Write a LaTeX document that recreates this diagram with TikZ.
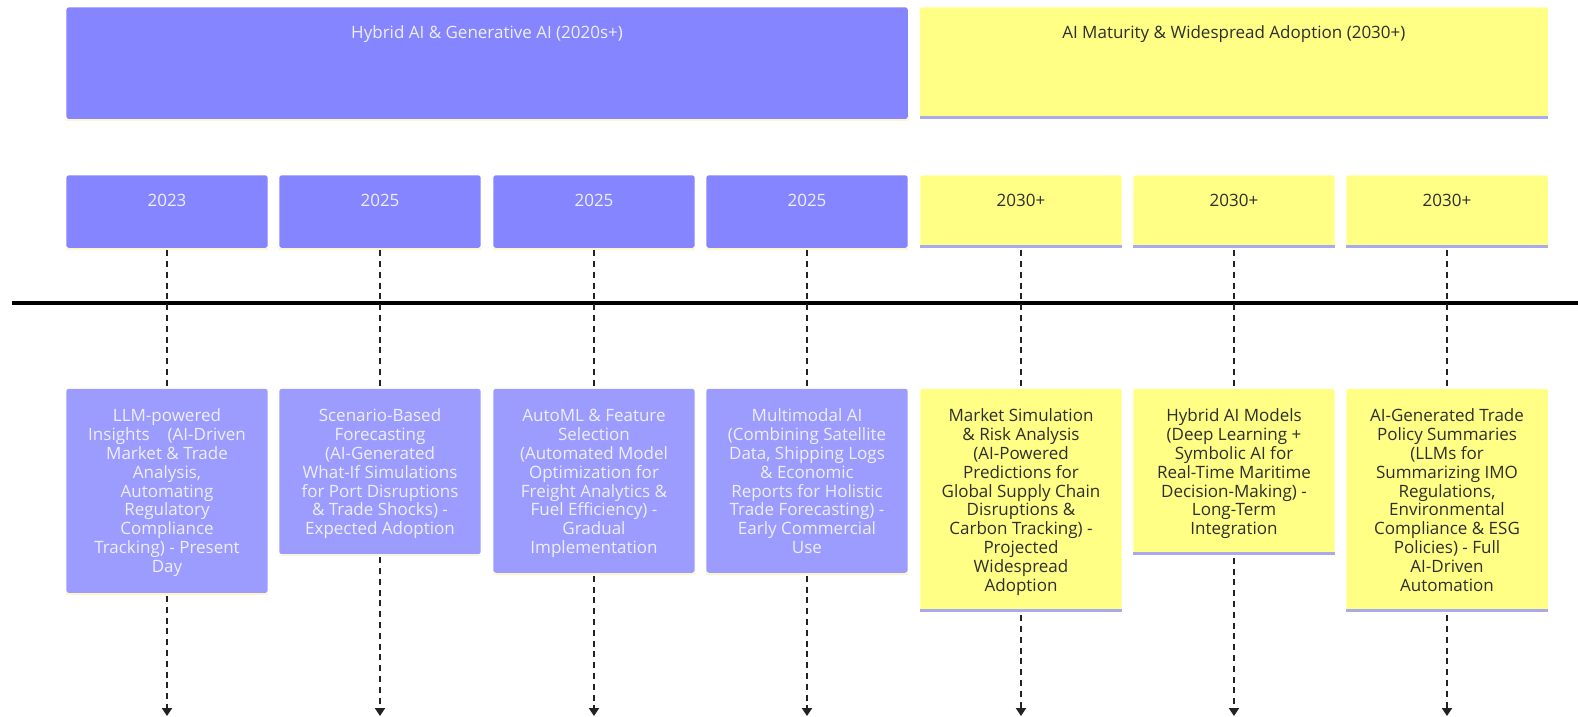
\documentclass[tikz,border=0pt]{standalone}
\usepackage{fontspec}
\setmainfont{Open Sans}
\usetikzlibrary{arrows.meta}
\definecolor{pur}{HTML}{8585FF}
\definecolor{purlt}{HTML}{9C9CFF}
\definecolor{yel}{HTML}{FFFF85}
\definecolor{lav}{HTML}{A9A9EE}
\definecolor{cream}{HTML}{FFF6CC}
\definecolor{ptext}{HTML}{EEEEFF}
\definecolor{ytext}{HTML}{2E2E2E}
\definecolor{dashc}{HTML}{222222}
\tikzset{
  boxbase/.style={shape=rectangle, rounded corners=2pt, inner sep=0pt, minimum width=151.1pt, anchor=north, draw=none},
  pbox/.style={boxbase, fill=pur},
  pcbox/.style={boxbase, fill=purlt},
  ybox/.style={boxbase, fill=yel},
  txtbase/.style={font=\fontsize{12.75}{14.1}\selectfont, align=center, inner sep=0pt},
  ptxt/.style={txtbase, text=ptext},
  ytxt/.style={txtbase, text=ytext},
  conn/.style={draw=dashc, line width=1.5pt, dash pattern=on 4.5pt off 3.6pt},
  connarrow/.style={conn, shorten <=2pt, -{Triangle[length=6pt,width=7.5pt]}},
  timeline/.style={draw=black, line width=3pt},
  lavbar/.style={fill=lav},
  creambar/.style={fill=cream},
}
\begin{document}
\begin{tikzpicture}[x=0.75pt,y=-0.75pt]
\useasboundingbox (0,0) rectangle (1578,717);
\fill[white] (0,0) rectangle (1578,717);

% banners
\node[pbox, minimum width=631.05pt, minimum height=83.85pt] (hyb) at (487.1,7) {};
\node[ybox, minimum width=471.1pt, minimum height=83.85pt] (mat) at (1233.85,7) {};
\fill[creambar] (hyb.south west) rectangle ([yshift=-1.5pt]hyb.south east);
\fill[lavbar] ([yshift=2.25pt]mat.south west) rectangle (mat.south east);
\node[ptxt, anchor=base] (hybt) at (487.1,39) {Hybrid AI \& Generative AI (2020s+)};
\node[ytxt, anchor=base] (matt) at (1233.85,39) {AI Maturity \& Widespread Adoption (2030+)};

% timeline
\coordinate (tl) at (12,303);
\coordinate (tr) at (1578,303);
\draw[timeline] (tl) -- (tr);

% year boxes
\node[pbox, minimum height=54.45pt] (y1) at (167,175) {};
\node[pbox, minimum height=54.45pt] (y2) at (380,175) {};
\node[pbox, minimum height=54.45pt] (y3) at (594,175) {};
\node[pbox, minimum height=54.45pt] (y4) at (807,175) {};
\node[ybox, minimum height=54.45pt] (y5) at (1021,175) {};
\node[ybox, minimum height=54.45pt] (y6) at (1234,175) {};
\node[ybox, minimum height=54.45pt] (y7) at (1447,175) {};
\foreach \n in {y1,y2,y3,y4}{\fill[creambar] (\n.south west) rectangle ([yshift=-1.2pt]\n.south east);}
\foreach \n in {y5,y6,y7}{\fill[lavbar] ([yshift=2.25pt]\n.south west) rectangle (\n.south east);}
\node[ptxt, anchor=base] (y1t) at (167,206.7) {2023};
\node[ptxt, anchor=base] (y2t) at (380,206.7) {2025};
\node[ptxt, anchor=base] (y3t) at (594,206.7) {2025};
\node[ptxt, anchor=base] (y4t) at (807,206.7) {2025};
\node[ytxt, anchor=base] (y5t) at (1021,206.7) {2030+};
\node[ytxt, anchor=base] (y6t) at (1234,206.7) {2030+};
\node[ytxt, anchor=base] (y7t) at (1447,206.7) {2030+};

% content boxes
\node[pcbox, minimum height=153.15pt] (c1) at (167,388.5) {};
\node[pcbox, minimum height=124.1pt] (c2) at (380,388.5) {};
\node[pcbox, minimum height=138pt] (c3) at (594,388.5) {};
\node[pcbox, minimum height=138pt] (c4) at (807,388.5) {};
\node[ybox, minimum height=167.55pt] (c5) at (1021,388.5) {};
\node[ybox, minimum height=124.5pt] (c6) at (1234,388.5) {};
\node[ybox, minimum height=167.55pt] (c7) at (1447,388.5) {};
\foreach \n in {c1,c2,c3,c4}{\fill[creambar] (\n.south west) rectangle ([yshift=-1.2pt]\n.south east);}
\foreach \n in {c5,c6,c7}{\fill[lavbar] ([yshift=2.25pt]\n.south west) rectangle (\n.south east);}

\node[ptxt, anchor=north] (t1) at (167,408.5) {\strut LLM-powered\\Insights\hspace{13.5pt}(AI-Driven\\Market \& Trade\\Analysis,\\Automating\\Regulatory\\Compliance\\Tracking) - Present\\Day};
\node[ptxt, anchor=north] (t2) at (380,408.5) {\strut Scenario-Based\\Forecasting\\(AI-Generated\\What-If Simulations\\for Port Disruptions\\\& Trade Shocks) -\\Expected Adoption};
\node[ptxt, anchor=north] (t3) at (594,408.5) {\strut AutoML \& Feature\\Selection\\(Automated Model\\Optimization for\\Freight Analytics \&\\Fuel Efficiency) -\\Gradual\\Implementation};
\node[ptxt, anchor=north] (t4) at (807,408.5) {\strut Multimodal AI\\(Combining Satellite\\Data, Shipping Logs\\\& Economic\\Reports for Holistic\\Trade Forecasting) -\\Early Commercial\\Use};
\node[ytxt, anchor=north] (t5) at (1021,408.5) {\strut Market Simulation\\\& Risk Analysis\\(AI-Powered\\Predictions for\\Global Supply Chain\\Disruptions \&\\Carbon Tracking) -\\Projected\\Widespread\\Adoption};
\node[ytxt, anchor=north] (t6) at (1234,408.5) {\strut Hybrid AI Models\\(Deep Learning +\\Symbolic AI for\\Real-Time Maritime\\Decision-Making) -\\Long-Term\\Integration};
\node[ytxt, anchor=north] (t7) at (1447,408.5) {\strut AI-Generated Trade\\Policy Summaries\\(LLMs for\\Summarizing IMO\\Regulations,\\Environmental\\Compliance \& ESG\\Policies) - Full\\AI-Driven\\Automation};

% arrow ends
\coordinate (e1) at (167,716);
\coordinate (e2) at (380,716);
\coordinate (e3) at (594,716);
\coordinate (e4) at (807,716);
\coordinate (e5) at (1021,716);
\coordinate (e6) at (1234,716);
\coordinate (e7) at (1447,716);

% connectors
\foreach \i in {1,...,7}{
  \draw[conn] ([yshift=-1.5pt]y\i.south) -- (c\i.north);
  \draw[connarrow] (c\i.south) -- (e\i);
}
\end{tikzpicture}
\end{document}
